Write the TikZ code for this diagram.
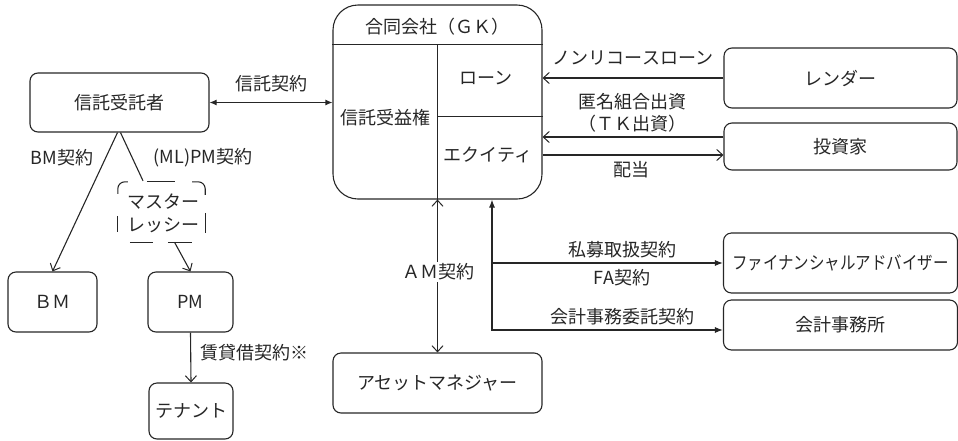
\documentclass[tikz,border=0pt]{standalone}
\usepackage{fontspec}
\usepackage{graphicx}
\setmainfont{Noto Sans CJK JP}
\usetikzlibrary{arrows.meta,calc}
\definecolor{ink}{gray}{0.15}
\tikzset{
  box/.style={draw=ink, rounded corners=8pt, line width=1.1pt, inner sep=0pt, text=ink},
  lbl/.style={inner sep=0pt, text=ink},
  conn/.style={draw=ink, line width=1.1pt},
  open/.style={-{Straight Barb[length=6pt,width=11pt,line width=1pt]}},
  openboth/.style={{Straight Barb[length=6pt,width=11pt,line width=1pt]}-{Straight Barb[length=6pt,width=11pt,line width=1pt]}},
  fill1/.style={-{Latex[length=8pt,width=6pt]}},
}
\begin{document}
\begin{tikzpicture}[x=1pt,y=-1pt,font=\fontsize{18}{21}\selectfont]
\useasboundingbox (0,0) rectangle (958,440);
% nodes
\node[box, minimum width=179, minimum height=59] (trustee) at (119.5,102.5) {信託受託者};
\node[box, minimum width=89, minimum height=60] (bm) at (52.5,302) {ＢＭ};
\node[box, minimum width=85, minimum height=60] (pm) at (190.5,302) {PM};
\node[box, minimum width=84, minimum height=56] (tenant) at (191,411) {テナント};
\node[box, rounded corners=25pt, minimum width=209, minimum height=194] (gk) at (437.5,102) {};
\node[box, minimum width=233, minimum height=60] (lender) at (840.5,78) {レンダー};
\node[box, minimum width=233, minimum height=47] (investor) at (840.5,146.5) {投資家};
\node[box, minimum width=234, minimum height=60] (fa) at (840.5,263) {\scalebox{0.86}[1]{ファイナンシャルアドバイザー}};
\node[box, minimum width=234, minimum height=50] (acct) at (840.5,325) {会計事務所};
\node[box, minimum width=209, minimum height=60] (am) at (437.5,383) {アセットマネジャー};
% master lessee
\node[lbl, minimum width=87, minimum height=60] (ml) at (161.5,212) {};
\node[lbl] (ml1) at (163,202) {マスター};
\node[lbl] (ml2) at (163,225) {レッシー};
\begin{scope}[conn]
\draw[rounded corners=7] ($(ml.north west)+(0,12)$) |- ($(ml.north west)+(10,0)$);
\draw ($(ml.north west)+(29,0)$) -- ($(ml.north west)+(57,0)$);
\draw[rounded corners=7] ($(ml.north east)+(-13,0)$) -| ($(ml.north east)+(0,13)$);
\draw ($(ml.north west)+(0,34)$) -- ($(ml.north west)+(0,50)$);
\draw ($(ml.north east)+(0,31)$) -- ($(ml.north east)+(0,51)$);
\draw ($(ml.south west)+(12,0)$) -- ($(ml.south west)+(35,0)$);
\draw ($(ml.south west)+(50,0)$) -- ($(ml.south west)+(74,0)$);
\end{scope}
% GK internal
\draw[conn] ($(gk.north west)+(0,40)$) -- ($(gk.north east)+(0,40)$);
\draw[conn] ($(gk.north)+(0,40)$) -- (gk.south);
\draw[conn] ($(gk.north)+(0,112)$) -- ($(gk.north east)+(0,112)$);
\node[lbl] (gkt) at (437,27) {合同会社（ＧＫ）};
\node[lbl] (ben) at (385,118) {信託受益権};
\node[lbl] (loan) at (486,78) {ローン};
\node[lbl] (eq) at (488,155) {エクイティ};
% connectors
\draw[conn, {Latex[length=7pt,width=6pt]}-{Latex[length=7pt,width=6pt]}] (trustee.east) -- (trustee.east -| gk.west);
\node[lbl] (l1) at (271,84) {信託契約};
\draw[conn, open] ($(trustee.south)+(-2,0)$) -- (bm.north);
\node[lbl] (l2) at (62,158) {BM契約};
\draw[conn] ($(trustee.south)+(1,0)$) -- ($(ml.north)+(-18.5,-1)$);
\node[lbl] (l3) at (203,158) {(ML)PM契約};
\draw[conn, open] ($(ml.south)+(13,0)$) -- (pm.north);
\draw[conn, open] (pm.south) -- (tenant.north);
\node[lbl] (l4) at (254,353) {賃貸借契約※};
\draw[conn, open] (lender.west) -- (lender.west -| gk.east);
\node[lbl] (l5) at (633,58) {ノンリコースローン};
\draw[conn, open] ($(investor.west)+(0,-9.5)$) -- ($(investor.west -| gk.east)+(0,-9.5)$);
\node[lbl] (l6) at (632,102) {匿名組合出資};
\node[lbl] (l7) at (632,124) {（ＴＫ出資）};
\draw[conn, open] ($(investor.west -| gk.east)+(0,8.5)$) -- ($(investor.west)+(0,8.5)$);
\node[lbl] (l8) at (631,170) {配当};
\draw[conn, openboth] (gk.south) -- (am.north);
\node[lbl, fill=white, inner sep=2pt] (l9) at (438,272) {ＡＭ契約};
\coordinate (top) at ($(gk.south)+(54.5,0)$);
\draw[conn, {Latex[length=8pt,width=6pt]}-{Latex[length=8pt,width=6pt]}] (top) |- ($(acct.west)+(0,5)$);
\draw[conn, fill1] (fa.west -| top) -- (fa.west);
\node[lbl] (l10) at (622,250) {私募取扱契約};
\node[lbl] (l11) at (622,278) {FA契約};
\node[lbl] (l12) at (622,317) {会計事務委託契約};
\end{tikzpicture}
\end{document}
